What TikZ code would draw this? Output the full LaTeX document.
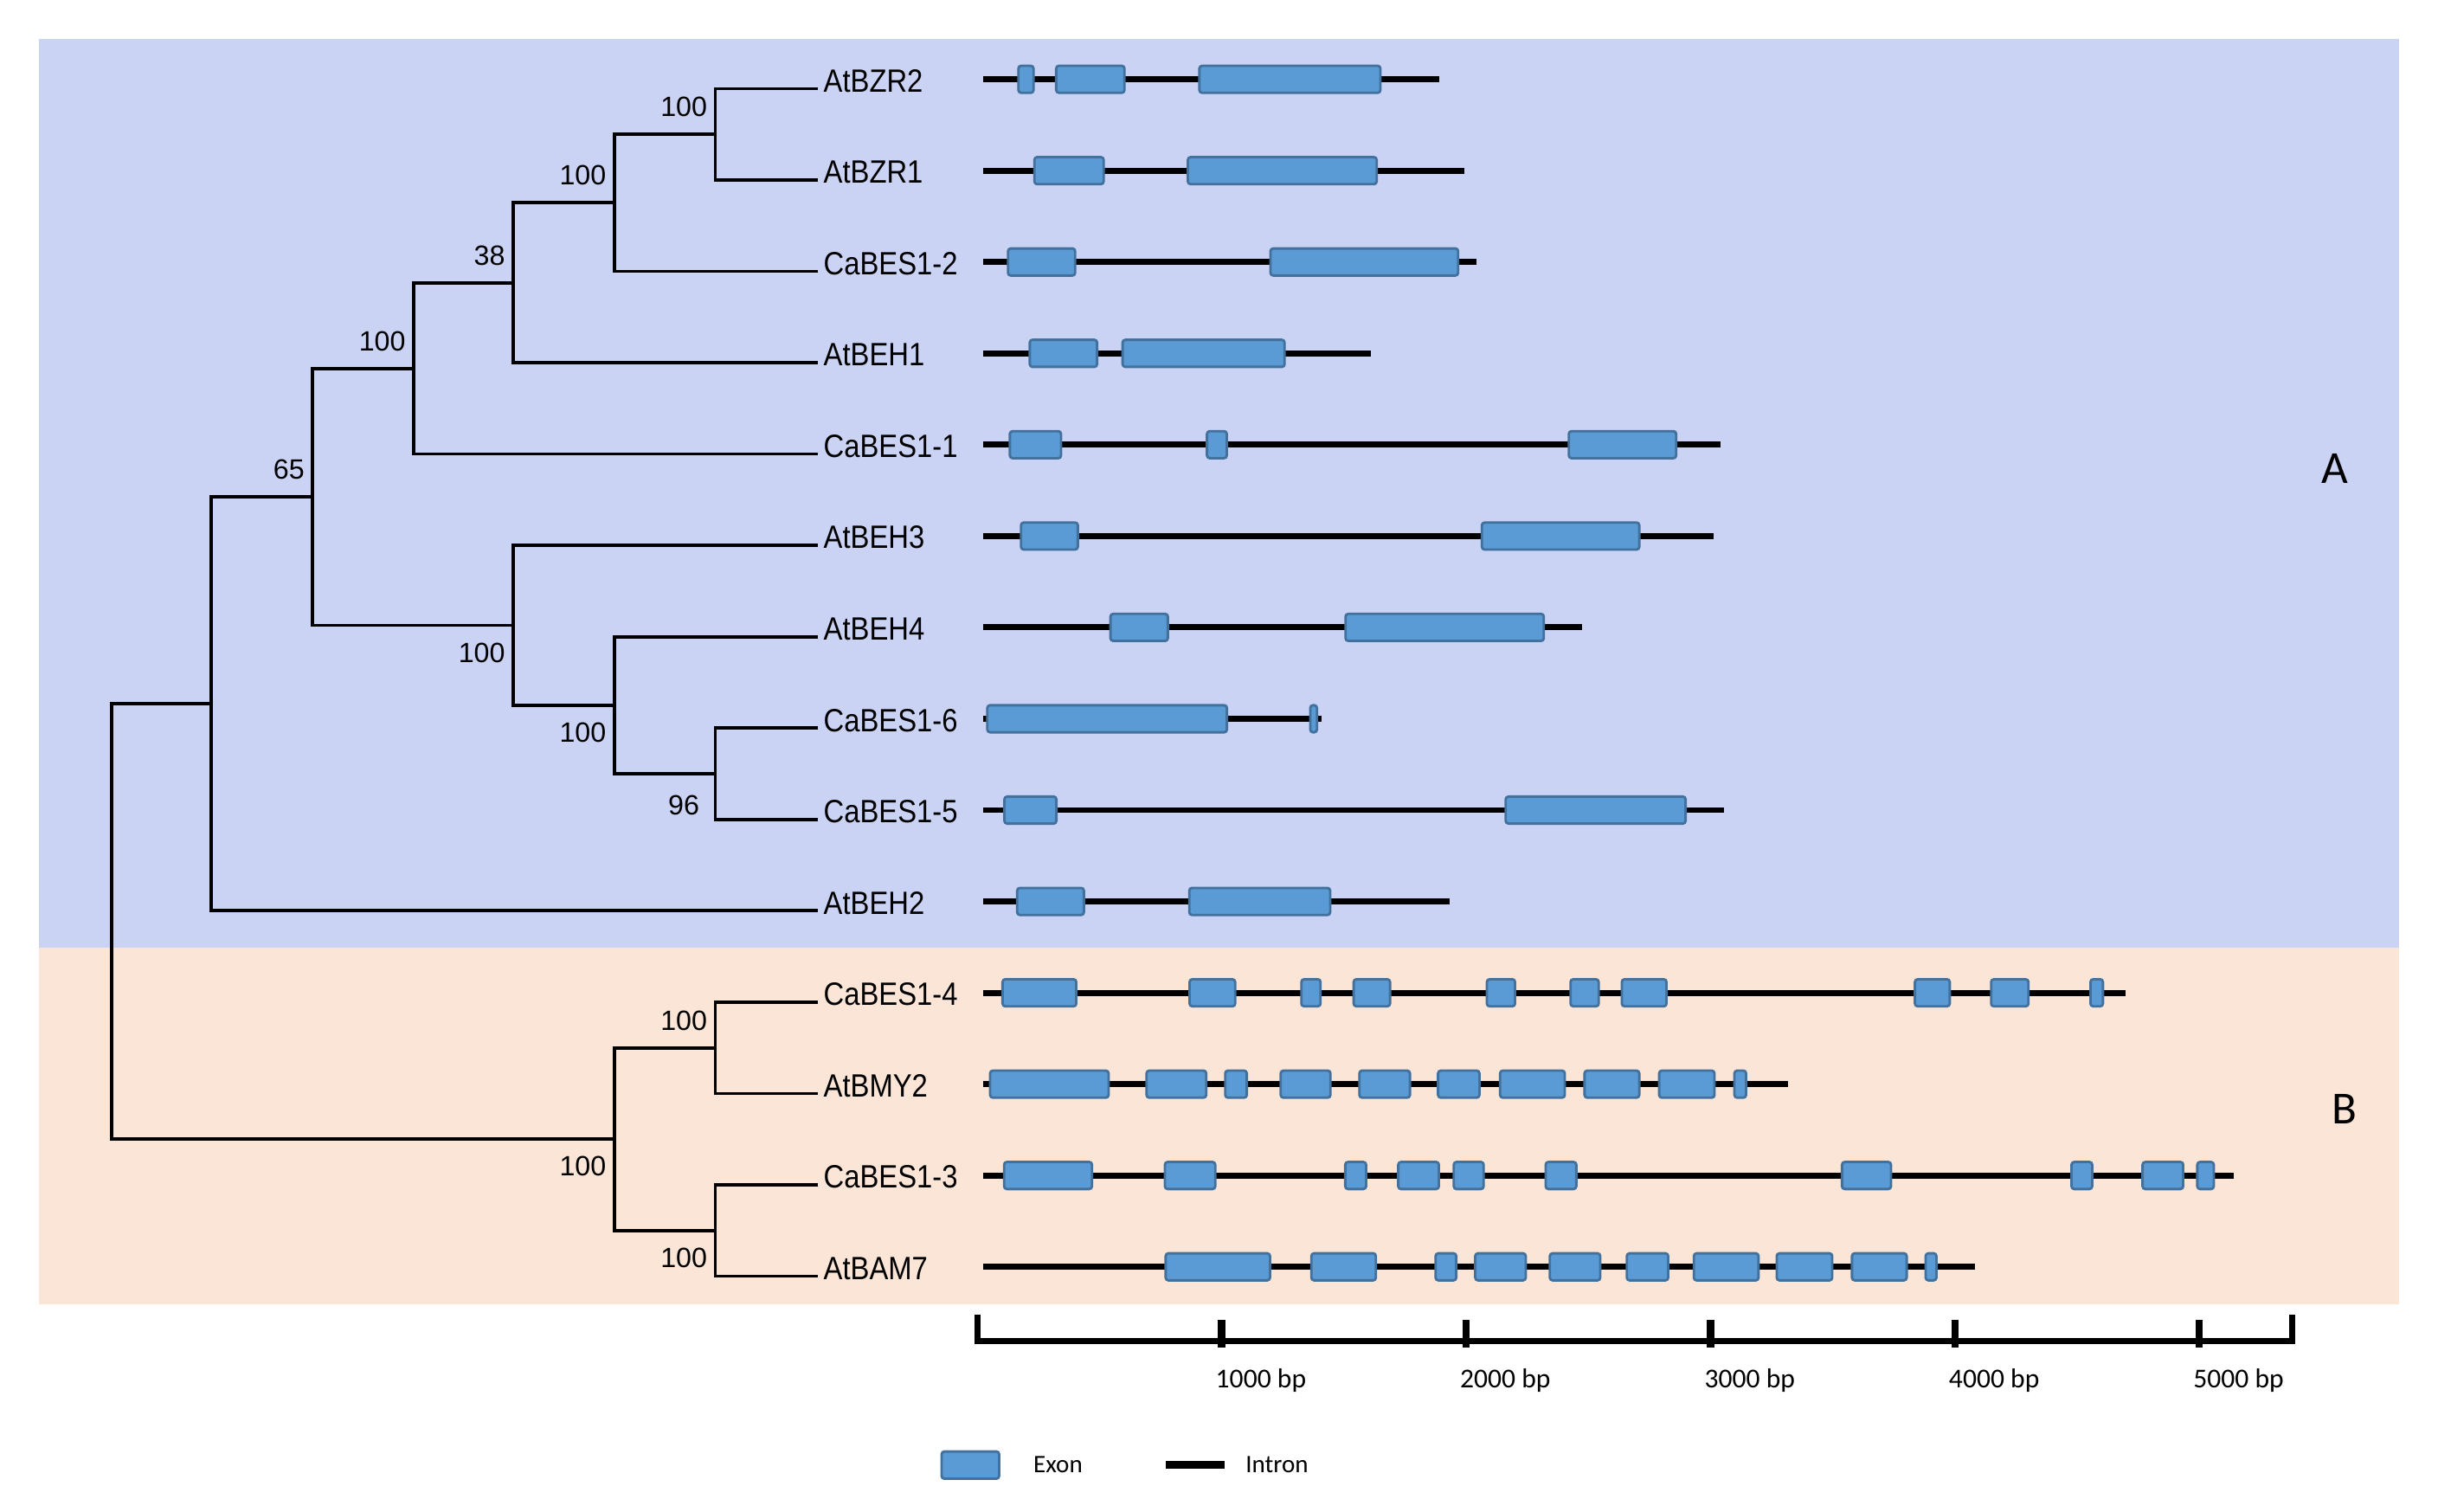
\documentclass[tikz,border=0pt]{standalone}
\usepackage{fontspec}
\setmainfont{Liberation Sans}
\newfontfamily\leaffont[FakeStretch=0.88]{Liberation Sans}
\newfontfamily\barfont{Carlito}
\definecolor{cladeA}{RGB}{203,211,245}
\definecolor{cladeB}{RGB}{251,229,214}
\definecolor{exonfill}{RGB}{91,155,213}
\definecolor{exonline}{RGB}{65,113,156}
\tikzset{
  branch/.style={line width=0.6pt},
  intron/.style={line width=1.1pt},
  exon/.style={fill=exonfill,draw=exonline,line width=0.45pt,rounded corners=0.5pt},
  leaf/.style={anchor=west,inner sep=0pt,font=\leaffont\fontsize{5.9}{6}\selectfont},
  bootup/.style={anchor=east,inner sep=0pt,xshift=-0.45mm,yshift=1.75mm,font=\fontsize{5.1}{6}\selectfont},
  bootdown/.style={anchor=east,inner sep=0pt,xshift=-0.45mm,yshift=-1.75mm,font=\fontsize{5.1}{6}\selectfont},
  bplabel/.style={anchor=base west,inner sep=0pt,font=\barfont\fontsize{5}{6}\selectfont},
  clade/.style={inner sep=0pt,font=\barfont\fontsize{8.4}{9}\selectfont}
}
\newcommand{\gene}[3]{%
  \draw[intron] (632.5,#1) -- (#2,#1);
  \foreach \a/\b in {#3}{\draw[exon] (\a,#1-8.7) rectangle (\b,#1+8.7);}
}
\begin{document}
\begin{tikzpicture}[x=0.01cm,y=-0.01cm]
    \useasboundingbox (0,0) rectangle (1568,971.9);
    \fill[cladeA] (25,25) rectangle (1543,609.3);
    \fill[cladeB] (25,609.3) rectangle (1543,838.8);
    % leaves
    \foreach \name [count=\i from 0] in {AtBZR2,AtBZR1,CaBES1-2,AtBEH1,CaBES1-1,AtBEH3,AtBEH4,CaBES1-6,CaBES1-5,AtBEH2,CaBES1-4,AtBMY2,CaBES1-3,AtBAM7}{
      \coordinate (t\i) at (526,{57+58.75*\i});
      \node[leaf] (g\i) at (529,{52+58.75*\i}) {\name};
    }
    % inner nodes
    \coordinate (n1) at (460,86.38);
    \coordinate (n2) at (395,130.44);
    \coordinate (n3) at (330,181.84);
    \coordinate (n4) at (266,236.92);
    \coordinate (n5) at (201,319.54);
    \coordinate (n6) at (136,452.65);
    \coordinate (n7) at (330,402.16);
    \coordinate (n8) at (395,453.56);
    \coordinate (n9) at (460,497.63);
    \coordinate (n10) at (460,673.88);
    \coordinate (n11) at (395,732.63);
    \coordinate (n12) at (460,791.38);
    \coordinate (root) at (71.6,592.64);
    \draw[branch] (t0) -| (n1) |- (t1);
    \draw[branch] (n1) -| (n2) |- (t2);
    \draw[branch] (n2) -| (n3) |- (t3);
    \draw[branch] (n3) -| (n4) |- (t4);
    \draw[branch] (t7) -| (n9) |- (t8);
    \draw[branch] (t6) -| (n8) |- (n9);
    \draw[branch] (t5) -| (n7) |- (n8);
    \draw[branch] (n4) -| (n5) |- (n7);
    \draw[branch] (n5) -| (n6) |- (t9);
    \draw[branch] (t10) -| (n10) |- (t11);
    \draw[branch] (t12) -| (n12) |- (t13);
    \draw[branch] (n10) -| (n11) |- (n12);
    \draw[branch] (n6) -| (root) |- (n11);
    % bootstrap values
    \node[bootup] (b1) at (n1) {100};
    \node[bootup] (b2) at (n2) {100};
    \node[bootup] (b3) at (n3) {38};
    \node[bootup] (b4) at (n4) {100};
    \node[bootup] (b5) at (n5) {65};
    \node[bootdown] (b7) at (n7) {100};
    \node[bootdown] (b8) at (n8) {100};
    \node[bootdown,xshift=-0.5mm,yshift=-0.3mm] (b9) at (n9) {96};
    \node[bootup] (b10) at (n10) {100};
    \node[bootdown] (b11) at (n11) {100};
    \node[bootdown] (b12) at (n12) {100};
    % gene structures
    \gene{51}{925.6}{655/664.7,679.3/723.2,771.4/887.8}
    \gene{109.75}{942}{665.3/709.8,764/885.4}
    \gene{168.5}{949.4}{648.3/691.5,817.1/937.8}
    \gene{227.25}{881.7}{662.3/705.6,722/826.2}
    \gene{286}{1106.6}{649.5/682.4,776.3/789,1009/1078}
    \gene{344.75}{1102.2}{656.7/693.2,953.1/1054.3}
    \gene{403.5}{1017.7}{714.2/751.1,865.4/992.9}
    \gene{462.25}{849.8}{635/789.1,842.7/847}
    \gene{521}{1108.6}{646/679.4,968.4/1084.1}
    \gene{579.75}{932.5}{654.2/697.1,764.9/855.5}
    \gene{638.5}{1367}{644.8/692.2,765.1/794.4,837/849.3,870.6/894,956.3/974.4,1010.1/1028.2,1043.1/1071.8,1231.6/1254,1280.6/1304.6,1344.5/1352.5}
    \gene{697.25}{1150}{636.8/713,737.4/775.8,788/801.9,823.7/855.7,874.3/906.8,924.9/951.5,964.8/1006.4,1019.1/1054.3,1067.1/1102.7,1115.5/1123}
    \gene{756}{1436.6}{645.8/702.3,749.2/781.6,865.2/878.6,899.3/925.4,935/954.2,994.1/1013.8,1184.7/1216.2,1332.3/1345.6,1378/1404.1,1413.2/1423.8}
    \gene{814.75}{1270}{749.7/816.8,843.4/884.9,923.3/936.6,948.8/981.3,996.8/1029.2,1046.3/1072.9,1089.4/1131,1142.7/1178.4,1191.1/1226.3,1238.5/1245.4}
    % clade letters
    \node[clade] (ca) at (1501.5,301.6) {A};
    \node[clade] (cb) at (1508,713.5) {B};
    % scale bar
    \draw[line width=1.1pt,line join=miter] (628.6,845.6) -- (628.6,862.7) -- (1474,862.7) -- (1474,845.6);
    \foreach \k in {1,...,5}{
      \draw[line width=1.3pt] ({628.5+157.2*\k},848.8) -- ({628.5+157.2*\k},866.4);
      \node[bplabel] (s\k) at ({624+157.2*\k},892.4) {\k000 bp};
    }
    % legend
    \draw[exon] (605.6,933.5) rectangle (642.6,951);
    \node[bplabel,font=\barfont\fontsize{4.6}{6}\selectfont] (lexon) at (664,946.9) {Exon};
    \draw[line width=1.4pt] (749.9,942.1) -- (787.4,942.1);
    \node[bplabel,font=\barfont\fontsize{4.6}{6}\selectfont] (lintron) at (800.5,946.9) {Intron};
\end{tikzpicture}
\end{document}
